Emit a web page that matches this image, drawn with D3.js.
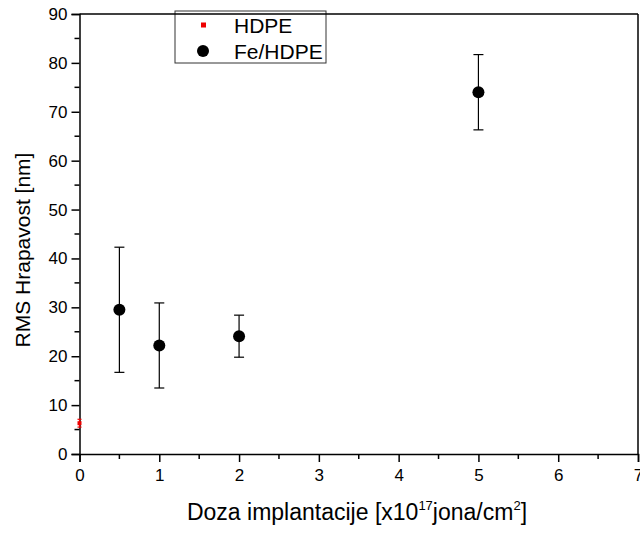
<!DOCTYPE html>
<html>
<head>
<meta charset="utf-8">
<script src="https://cdnjs.cloudflare.com/ajax/libs/d3/7.8.5/d3.min.js"></script>
<style>
  body { margin: 0; background: #fff; }
  svg { display: block; font-family: "Liberation Sans", Arial, sans-serif; }
</style>
</head>
<body>
<div id="chart"></div>
<script>
// data
var hdpeX = [0];
var hdpeY = [6.3];
var hdpeErr = [0.8];

var feX = [0.5, 1, 2, 5];
var feY = [29.5, 22.2, 24.1, 74.0];
var feErr = [12.8, 8.7, 4.3, 7.7];

var xTicks = [0, 1, 2, 3, 4, 5, 6, 7];
var yTicks = [0, 10, 20, 30, 40, 50, 60, 70, 80, 90];
var seriesNames = ["HDPE", "Fe/HDPE"];

var W = 640, H = 533,
  pL = 79.5, pR = 638, pT = 14, pB = 454;

var svg = d3.select("#chart").append("svg")
  .attr("width", W)
  .attr("height", H);

var x = d3.scaleLinear().domain([0, 7]).range([pL, pR]);
var y = d3.scaleLinear().domain([0, 90]).range([pB, pT]);

// frame right
svg.append("line").attr("x1", pR).attr("x2", pR).attr("y1", pT).attr("y2", pB)
  .attr("stroke", "#000").attr("stroke-width", 1.5);

// minor ticks
var xMinor = d3.range(0.5, 7, 1);
var yMinor = d3.range(5, 90, 10);

var gx = svg.append("g").attr("transform", "translate(0," + pB + ")");
gx.call(d3.axisBottom(x).tickValues(xTicks).tickSize(8).tickPadding(5).tickFormat(d3.format("d")));
gx.selectAll(".minor").data(xMinor).enter().append("line")
  .attr("x1", x).attr("x2", x).attr("y1", 0).attr("y2", 5)
  .attr("stroke", "#000").attr("stroke-width", 1.5);

var gy = svg.append("g").attr("transform", "translate(" + pL + ",0)");
gy.call(d3.axisLeft(y).tickValues(yTicks).tickSize(8).tickPadding(4).tickFormat(d3.format("d")));
gy.selectAll(".minor").data(yMinor).enter().append("line")
  .attr("y1", y).attr("y2", y).attr("x1", 0).attr("x2", -5)
  .attr("stroke", "#000").attr("stroke-width", 1.5);

svg.selectAll(".domain").attr("stroke-width", 1.5);
svg.selectAll(".tick line").attr("stroke-width", 1.5);
svg.selectAll(".tick text").attr("font-size", 17).attr("fill", "#000")
  .attr("font-family", "Liberation Sans, Arial, sans-serif");
gx.selectAll(".tick text").attr("dy", "0.85em");

// error bars
function errorBars(xs, ys, es, color, cap) {
  var g = svg.append("g").attr("stroke", color).attr("stroke-width", 1.2);
  xs.forEach(function (d, i) {
    var cx = x(d), y1 = y(ys[i] + es[i]), y0 = y(ys[i] - es[i]);
    g.append("line").attr("x1", cx).attr("x2", cx).attr("y1", y1).attr("y2", y0);
    g.append("line").attr("x1", cx - cap).attr("x2", cx + cap).attr("y1", y1).attr("y2", y1);
    g.append("line").attr("x1", cx - cap).attr("x2", cx + cap).attr("y1", y0).attr("y2", y0);
  });
}
errorBars(hdpeX, hdpeY, hdpeErr, "#e00", 2);
errorBars(feX, feY, feErr, "#000", 5);

svg.selectAll(".hdpe").data(hdpeX).enter().append("rect")
  .attr("x", function (d) { return x(d) - 2; })
  .attr("y", function (d, i) { return y(hdpeY[i]) - 2; })
  .attr("width", 4).attr("height", 4).attr("fill", "#e00");

svg.selectAll(".fe").data(feX).enter().append("circle")
  .attr("cx", x)
  .attr("cy", function (d, i) { return y(feY[i]); })
  .attr("r", 6).attr("fill", "#000");

// legend
svg.append("rect").attr("x", 175).attr("y", 11).attr("width", 151).attr("height", 52)
  .attr("fill", "#fff").attr("stroke", "#333").attr("stroke-width", 1);
// frame top drawn over legend box
svg.append("line").attr("x1", pL).attr("x2", pR).attr("y1", pT).attr("y2", pT)
  .attr("stroke", "#000").attr("stroke-width", 1.5);
svg.append("rect").attr("x", 201).attr("y", 22.5).attr("width", 5).attr("height", 5).attr("fill", "#e00");
svg.append("circle").attr("cx", 203).attr("cy", 51).attr("r", 6).attr("fill", "#000");
svg.selectAll(".lt").data(seriesNames).enter().append("text")
  .attr("x", 234)
  .attr("y", function (d, i) { return 33 + i * 26; })
  .attr("font-size", 21)
  .text(function (d) { return d; });

// axis titles
var xt = svg.append("text").attr("x", 357).attr("y", 520)
  .attr("text-anchor", "middle").attr("font-size", 23);
xt.append("tspan").text("Doza implantacije [x10");
xt.append("tspan").attr("font-size", 13).attr("dy", -10).text("17");
xt.append("tspan").attr("dy", 10).text("jona/cm");
xt.append("tspan").attr("font-size", 13).attr("dy", -10).text("2");
xt.append("tspan").attr("dy", 10).text("]");

svg.append("text")
  .attr("transform", "translate(30,250) rotate(-90)")
  .attr("text-anchor", "middle").attr("font-size", 21)
  .text("RMS Hrapavost [nm]");
</script>
</body>
</html>
